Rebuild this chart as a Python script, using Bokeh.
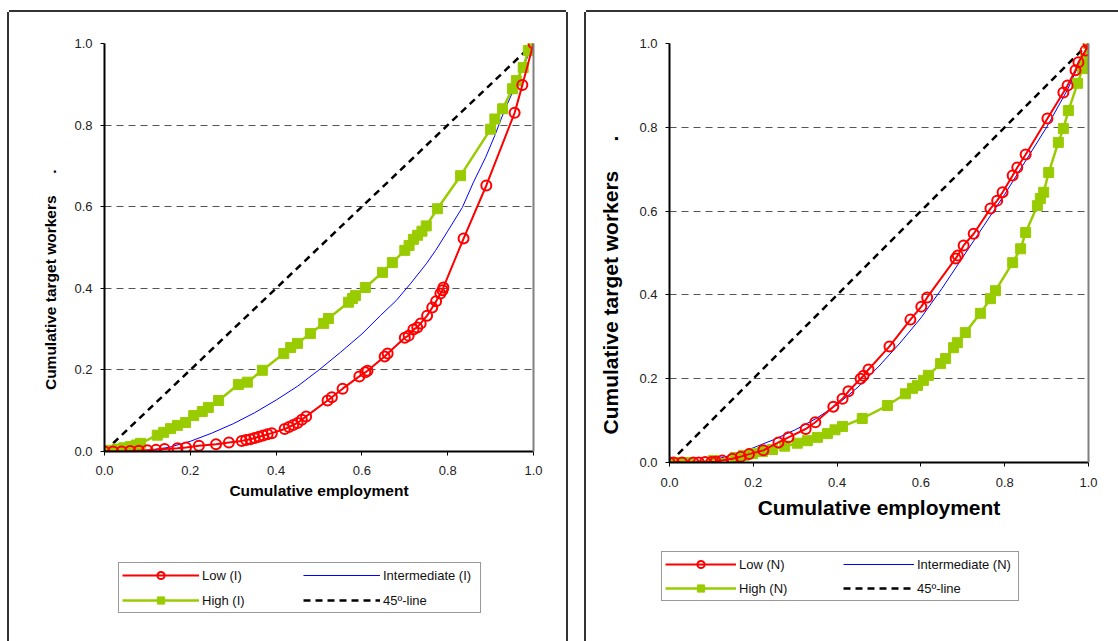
from bokeh.plotting import figure
from bokeh.models import Range1d, LinearAxis, FixedTicker, Legend, LegendItem, NumeralTickFormatter
from bokeh.embed import file_html
from bokeh.resources import INLINE

# ---------------- data ----------------
ticks = [0.0, 0.2, 0.4, 0.6, 0.8, 1.0]
x_label = "Cumulative employment"
y_label_text = "Cumulative target workers"

# Left panel (I)
low_i_x = [0, 0.02, 0.04, 0.06, 0.08, 0.10, 0.12, 0.14, 0.17, 0.19, 0.22, 0.26, 0.29, 0.32, 0.33, 0.34,
           0.35, 0.36, 0.37, 0.38, 0.39, 0.42, 0.43, 0.44, 0.45, 0.46, 0.47, 0.52, 0.53, 0.555, 0.594,
           0.608, 0.613, 0.653, 0.66, 0.70, 0.709, 0.72, 0.729, 0.737, 0.752, 0.764, 0.773, 0.783,
           0.788, 0.79, 0.837, 0.89, 0.956, 0.974, 1.0]
low_i_y = [0, 0, 0, 0.001, 0.002, 0.003, 0.004, 0.006, 0.008, 0.010, 0.014, 0.018, 0.022, 0.026, 0.028,
           0.030, 0.033, 0.036, 0.039, 0.042, 0.045, 0.055, 0.060, 0.065, 0.070, 0.078, 0.086, 0.125,
           0.133, 0.154, 0.184, 0.194, 0.198, 0.233, 0.24, 0.279, 0.284, 0.299, 0.304, 0.314, 0.333,
           0.353, 0.368, 0.387, 0.395, 0.402, 0.522, 0.652, 0.83, 0.898, 1.0]
mid_i_x = [0, 0.05, 0.1, 0.15, 0.2, 0.25, 0.3, 0.35, 0.4, 0.45, 0.5, 0.55, 0.6, 0.643, 0.68, 0.713, 0.75,
           0.772, 0.8, 0.834, 0.86, 0.888, 0.91, 0.93, 0.953, 0.975, 1.0]
mid_i_y = [0, 0.0, 0.003, 0.01, 0.025, 0.045, 0.068, 0.095, 0.126, 0.16, 0.2, 0.243, 0.288, 0.333, 0.37,
           0.411, 0.46, 0.493, 0.54, 0.598, 0.66, 0.72, 0.775, 0.83, 0.885, 0.94, 1.0]
high_i_x = [0, 0.005, 0.015, 0.03, 0.045, 0.06, 0.075, 0.084, 0.123, 0.138, 0.154, 0.17, 0.189, 0.208,
            0.228, 0.242, 0.266, 0.312, 0.333, 0.368, 0.418, 0.434, 0.45, 0.48, 0.511, 0.522, 0.569,
            0.578, 0.585, 0.608, 0.648, 0.671, 0.70, 0.71, 0.72, 0.73, 0.74, 0.75, 0.776, 0.83, 0.9,
            0.91, 0.928, 0.951, 0.96, 0.976, 0.988, 1.0]
high_i_y = [0, 0.001, 0.003, 0.006, 0.009, 0.012, 0.016, 0.02, 0.04, 0.047, 0.056, 0.064, 0.071, 0.088,
            0.098, 0.108, 0.125, 0.164, 0.17, 0.199, 0.24, 0.255, 0.265, 0.289, 0.314, 0.326, 0.366,
            0.375, 0.382, 0.402, 0.439, 0.463, 0.493, 0.505, 0.52, 0.53, 0.54, 0.553, 0.595, 0.676,
            0.79, 0.815, 0.84, 0.889, 0.909, 0.941, 0.983, 1.0]

# Right panel (N)
low_n_x = [0, 0.01, 0.03, 0.057, 0.07, 0.085, 0.1, 0.11, 0.126, 0.15, 0.17, 0.19, 0.224, 0.26, 0.284,
           0.325, 0.348, 0.391, 0.413, 0.427, 0.456, 0.463, 0.475, 0.525, 0.575, 0.601, 0.615, 0.683,
           0.688, 0.702, 0.726, 0.766, 0.782, 0.795, 0.819, 0.83, 0.85, 0.902, 0.94, 0.95, 0.969,
           0.976, 0.993, 1.0]
low_n_y = [0, 0, 0, 0, 0, 0.001, 0.001, 0.002, 0.005, 0.009, 0.014, 0.02, 0.029, 0.048, 0.06, 0.08,
           0.096, 0.133, 0.152, 0.17, 0.2, 0.207, 0.222, 0.277, 0.341, 0.372, 0.394, 0.487, 0.494,
           0.518, 0.546, 0.606, 0.625, 0.645, 0.685, 0.704, 0.735, 0.821, 0.883, 0.9, 0.936, 0.955,
           0.983, 1.0]
mid_n_x = [0, 0.1, 0.15, 0.2, 0.25, 0.3, 0.35, 0.4, 0.45, 0.5, 0.55, 0.6, 0.65, 0.7, 0.75, 0.8, 0.85,
           0.9, 0.95, 1.0]
mid_n_y = [0, 0.005, 0.018, 0.035, 0.055, 0.078, 0.105, 0.138, 0.18, 0.23, 0.285, 0.345, 0.415, 0.49,
           0.565, 0.64, 0.72, 0.8, 0.89, 1.0]
high_n_x = [0, 0.01, 0.026, 0.045, 0.105, 0.157, 0.177, 0.198, 0.222, 0.246, 0.275, 0.305, 0.329, 0.353,
            0.377, 0.395, 0.413, 0.46, 0.52, 0.563, 0.58, 0.592, 0.606, 0.618, 0.647, 0.659, 0.678,
            0.687, 0.706, 0.742, 0.766, 0.778, 0.819, 0.838, 0.85, 0.878, 0.885, 0.893, 0.905, 0.928,
            0.94, 0.952, 0.974, 0.986, 0.993, 1.0]
high_n_y = [0, 0, 0, 0, 0.005, 0.012, 0.017, 0.021, 0.026, 0.031, 0.039, 0.046, 0.052, 0.06, 0.069,
            0.078, 0.086, 0.105, 0.136, 0.164, 0.177, 0.184, 0.196, 0.208, 0.236, 0.248, 0.274, 0.286,
            0.31, 0.356, 0.391, 0.41, 0.477, 0.51, 0.549, 0.613, 0.63, 0.645, 0.692, 0.764, 0.797,
            0.84, 0.905, 0.94, 0.964, 1.0]

diag_x = [0, 1]
diag_y = [0, 1]

RED = "#FF0000"
GREEN = "#99CC00"
BLUE = "#0000FF"
FONT = "Liberation Sans"
NB = "\u00a0"


def draw_series(p, lx, ly, mx, my, hx, hy):
    diag = p.line(diag_x, diag_y, line_color="black", line_width=2.5, line_dash="7 5")
    mid = p.line(mx, my, line_color=BLUE, line_width=1)
    hl = p.line(hx, hy, line_color=GREEN, line_width=2.5)
    hs = p.scatter(hx, hy, marker="square", size=10, fill_color=GREEN, line_color=GREEN)
    ll = p.line(lx, ly, line_color=RED, line_width=2)
    ls = p.scatter(lx, ly, marker="circle", size=10, fill_color=None, line_color=RED, line_width=2)
    return diag, mid, hl, hs, ll, ls


def make_panel(lx, ly, mx, my, hx, hy, width, height, mb, title_size, label_pad,
               ylab_spaces, ylab_trail, xlab_standoff, xtick_standoff):
    p = figure(width=width, height=height, output_backend="svg", toolbar_location=None,
               x_range=Range1d(0, 1), y_range=Range1d(0, 1),
               min_border_left=mb[0], min_border_right=mb[1], min_border_top=mb[2],
               min_border_bottom=mb[3])
    p.outline_line_color = None
    p.background_fill_color = "white"
    p.border_fill_color = "white"
    p.xgrid.grid_line_color = None
    p.ygrid.grid_line_color = "#555555"
    p.ygrid.grid_line_dash = "7 5"
    p.ygrid.grid_line_width = 1
    p.ygrid.ticker = FixedTicker(ticks=ticks)

    for ax in (p.xaxis[0], p.yaxis[0]):
        ax.ticker = FixedTicker(ticks=ticks)
        ax.formatter = NumeralTickFormatter(format="0.0")
        ax.axis_line_color = "black"
        ax.axis_line_width = 2
        ax.major_tick_line_color = "black"
        ax.major_tick_out = 4
        ax.major_tick_in = 0
        ax.minor_tick_line_color = None
        ax.major_label_text_font = FONT
        ax.major_label_text_font_size = "13px"
        ax.major_label_text_color = "#222222"
        ax.axis_label_text_font = FONT
        ax.axis_label_text_font_style = "bold"
        ax.axis_label_text_font_size = title_size
        ax.axis_label_text_color = "black"
    p.xaxis[0].axis_label = x_label
    p.xaxis[0].major_label_standoff = xtick_standoff
    p.xaxis[0].axis_label_standoff = xlab_standoff
    p.yaxis[0].axis_label = y_label_text + NB * ylab_spaces + "." + NB * ylab_trail
    p.yaxis[0].major_label_standoff = 8
    p.yaxis[0].axis_label_standoff = label_pad

    right = LinearAxis(ticker=FixedTicker(ticks=[]), axis_line_color="#808080", axis_line_width=2,
                       major_tick_line_color=None, minor_tick_line_color=None)
    p.add_layout(right, "right")
    draw_series(p, lx, ly, mx, my, hx, hy)
    return p


def make_legend(suffix, lx, ly, mx, my, hx, hy, width, height, glyph_w, label_w, row_spacing):
    # separate small canvas that holds only the legend box (series lie outside its ranges)
    q = figure(width=width, height=height, output_backend="svg", toolbar_location=None,
               x_range=Range1d(5, 6), y_range=Range1d(5, 6), x_axis_type=None, y_axis_type=None,
               min_border=0)
    q.outline_line_color = None
    q.grid.visible = False
    q.background_fill_color = None
    q.border_fill_color = None
    diag, mid, hl, hs, ll, ls = draw_series(q, lx, ly, mx, my, hx, hy)
    items = [
        LegendItem(label="Low (%s)" % suffix, renderers=[ll, ls]),
        LegendItem(label="High (%s)" % suffix, renderers=[hl, hs]),
        LegendItem(label="Intermediate (%s)" % suffix, renderers=[mid]),
        LegendItem(label="45º-line", renderers=[diag]),
    ]
    leg = Legend(items=items, location="top_left", ncols=2, orientation="vertical")
    leg.label_text_font = FONT
    leg.label_text_font_size = "13px"
    leg.label_text_color = "#111111"
    leg.glyph_width = glyph_w
    leg.glyph_height = 18
    leg.label_height = 18
    leg.label_width = label_w
    leg.label_standoff = 3
    leg.spacing = row_spacing
    leg.padding = 3
    leg.margin = 3
    leg.border_line_color = "#333333"
    leg.border_line_width = 1
    leg.background_fill_color = "white"
    leg.background_fill_alpha = 1
    q.add_layout(leg, "center")
    return q


p1 = make_panel(low_i_x, low_i_y, mid_i_x, mid_i_y, high_i_x, high_i_y,
                width=557, height=629, mb=(95, 33, 31, 190), title_size="15.5px", label_pad=12,
                ylab_spaces=5, ylab_trail=15, xlab_standoff=4, xtick_standoff=10)
p2 = make_panel(low_n_x, low_n_y, mid_n_x, mid_n_y, high_n_x, high_n_y,
                width=532, height=629, mb=(83, 30, 31, 179), title_size="21px", label_pad=14,
                ylab_spaces=5, ylab_trail=11, xlab_standoff=6, xtick_standoff=11)
l1 = make_legend("I", low_i_x, low_i_y, mid_i_x, mid_i_y, high_i_x, high_i_y,
                 width=380, height=60, glyph_w=77, label_w=94, row_spacing=7)
l2 = make_legend("N", low_n_x, low_n_y, mid_n_x, mid_n_y, high_n_x, high_n_y,
                 width=380, height=60, glyph_w=71, label_w=98, row_spacing=6)

shadow = "-2px 0 0 0 #333333, 2px 0 0 0 #333333, 0 -2px 0 0 #333333"
p1.styles = {"position": "absolute", "left": "9px", "top": "12px", "box-shadow": shadow}
p2.styles = {"position": "absolute", "left": "586px", "top": "12px", "box-shadow": shadow}
l1.styles = {"position": "absolute", "left": "115px", "top": "559px"}
l2.styles = {"position": "absolute", "left": "658px", "top": "548px"}

open("out.html", "w").write(file_html([p1, p2, l1, l2], INLINE))
